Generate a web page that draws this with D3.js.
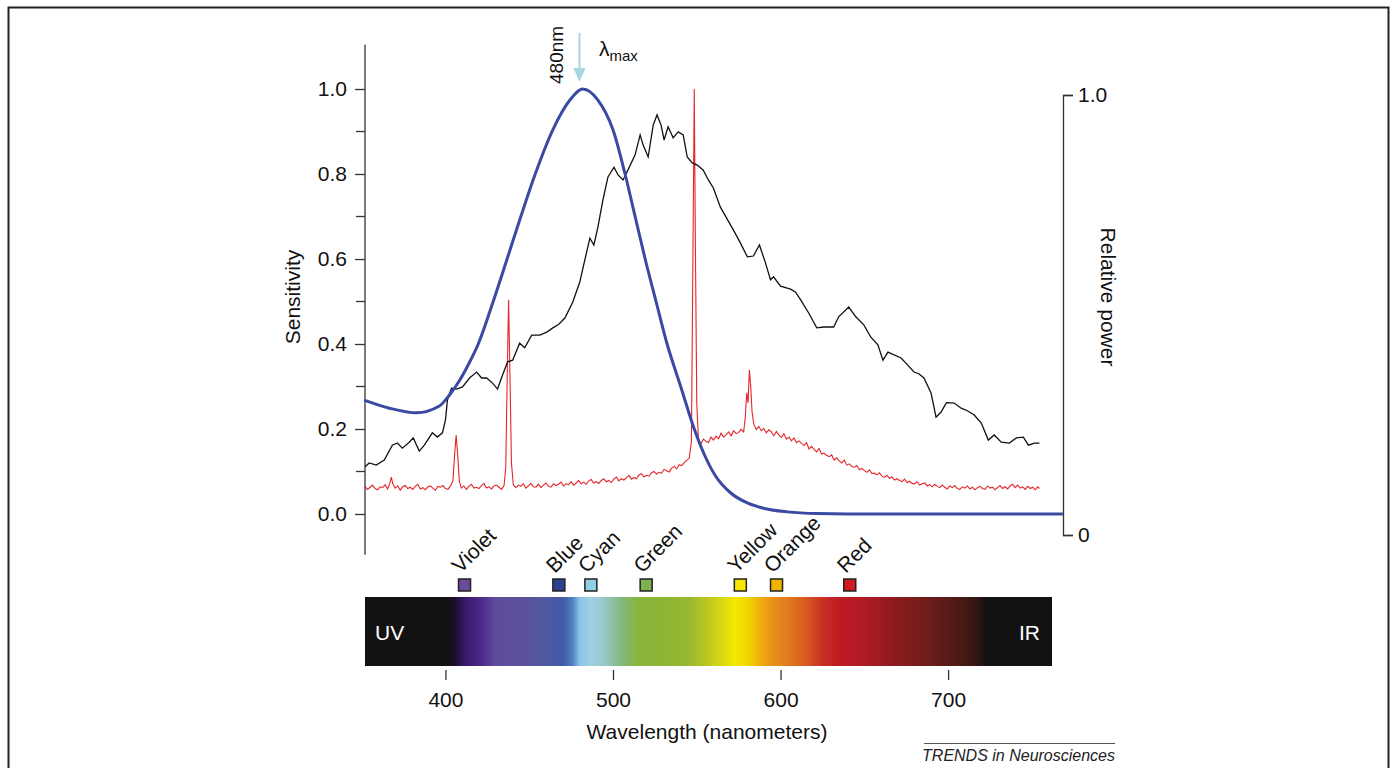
<!DOCTYPE html>
<html>
<head>
<meta charset="utf-8">
<script src="https://cdn.jsdelivr.net/npm/d3@7"></script>
<style>
  body { margin: 0; background: #fff; }
  svg { display: block; font-family: "Liberation Sans", Arial, sans-serif; }
</style>
</head>
<body>
<svg id="chart" width="1396" height="768"></svg>
<script>
// sensitivity nomogram, lambda max 480nm  [nm, sensitivity]
var sensitivity = [[351.5,.268],[366.5,.249],[382.6,.238],[396.4,.254],[402.4,.280],[408.4,.314],[414.4,.357],
  [419.6,.400],[428.5,.500],[436.8,.600],[445,.700],[453.6,.800],[464.1,.904],[474.3,.974],
  [482,1],[491,.974],[500,.904],[507.2,.800],[513.2,.700],[519.2,.600],[525.7,.500],[532.3,.400],[540.4,.300],
  [548.5,.200],[554.5,.140],[561.1,.090],[570.1,.050],[580.2,.026],[590.4,.013],[604.2,.005],[622,.001],[640,0],[768.5,0]];

// broadband source (black)
var broadSpectrum = [[352.1,.111],[354.5,.120],[358.7,.115],[363.5,.127],[368.3,.162],[371.3,.167],[374.3,.155],
  [378.4,.169],[380.8,.179],[384.4,.148],[387.4,.162],[392.2,.191],[395.2,.181],[398.2,.191],[400,.221],[401.2,.268],
  [403.6,.296],[406.6,.294],[410.2,.299],[414.4,.320],[418.6,.334],[421.6,.320],[424.6,.320],[428.1,.308],[431.1,.294],
  [434.1,.327],[437.1,.358],[440.1,.362],[444.3,.402],[447.3,.391],[451.5,.421],[456.3,.421],[460.5,.428],[464.1,.438],
  [467.5,.446],[471.3,.461],[476,.499],[480.2,.546],[483.2,.598],[486.2,.649],[488.6,.633],[491,.675],[494,.739],
  [497,.793],[500.6,.816],[503,.798],[506,.786],[508.4,.805],[513.2,.845],[516.2,.892],[518,.868],[521,.840],
  [524,.915],[526.3,.939],[528.7,.915],[530.5,.880],[532.9,.911],[535.9,.885],[538.9,.899],[541.9,.892],[544.3,.840],
  [547.3,.826],[550.3,.821],[553.9,.809],[556.9,.786],[559.9,.767],[564.1,.722],[567.4,.699],[571.9,.668],[576,.638],
  [580.2,.605],[583.8,.607],[587.4,.633],[591,.591],[594,.551],[595.8,.558],[600,.536],[606,.529],[609,.522],[612,.504],
  [616.8,.473],[621.6,.438],[625.7,.440],[631.7,.440],[634.7,.464],[640.7,.487],[644.9,.464],[649.7,.445],[653.9,.416],
  [658.1,.398],[661.1,.362],[664.1,.381],[671.9,.367],[675.5,.352],[679.6,.334],[682.5,.330],[685.6,.320],[689.8,.285],
  [692.8,.228],[695.8,.240],[699,.262],[703.6,.261],[707.8,.249],[711.5,.243],[715.6,.233],[719.8,.214],[724,.174],
  [727.5,.186],[731.7,.169],[736.5,.167],[740.7,.179],[744.9,.181],[747.9,.162],[751.5,.167],[754.5,.167]];

// lamp spectrum (red), with mercury lines
var lampSpectrum = [[352,.065],[353.5,.058],[355,.063],[356.5,.068],[358,.060],[359.5,.057],[361,.064],[362.5,.062],
  [364,.069],[365.5,.059],[366.8,.072],[367.7,.087],[368.6,.071],[370,.061],[371.5,.066],[373,.056],[374.5,.064],
  [376,.067],[377.5,.060],[379,.063],[380.5,.058],[382,.065],[383.5,.070],[385,.059],[386.5,.062],[388,.057],
  [389.5,.064],[391,.066],[392.5,.061],[394,.056],[395.5,.065],[397,.063],[398.5,.067],[400,.060],[401.5,.058],
  [403,.066],[404.5,.078],[405.5,.140],[406.4,.186],[407.3,.140],[408.3,.078],[409.5,.061],[411,.066],[412.5,.058],
  [414,.065],[415.5,.070],[417,.061],[418.5,.063],[420,.060],[421.5,.067],[423,.072],[424.5,.061],[426,.064],
  [427.5,.059],[429,.066],[430.5,.068],[432,.063],[433.5,.058],[435,.067],[436,.110],[436.9,.33],[437.7,.504],
  [438.5,.33],[439.4,.12],[440.5,.069],[442,.062],[443.5,.068],[445,.065],[446.5,.071],[448,.061],[449.5,.066],
  [451,.072],[452.5,.064],[454,.063],[455.5,.070],[457,.062],[458.5,.068],[460,.073],[461.5,.065],[463,.063],
  [464.5,.071],[466,.067],[467.5,.070],[469,.075],[470.5,.066],[472,.071],[473.5,.069],[475,.076],[476.5,.068],
  [478,.073],[479.5,.079],[481,.071],[482.5,.075],[484,.070],[485.5,.078],[487,.081],[488.5,.073],[490,.076],
  [491.5,.072],[493,.079],[494.5,.083],[496,.076],[497.5,.079],[499,.074],[500.5,.082],[502,.087],[503.5,.078],
  [505,.083],[506.5,.080],[508,.085],[509.5,.091],[511,.082],[512.5,.086],[514,.083],[515.5,.092],[517,.095],
  [518.5,.087],[520,.091],[521.5,.089],[523,.097],[524.5,.100],[526,.094],[527.5,.098],[529,.096],[530.5,.105],
  [532,.102],[533.5,.099],[535,.108],[536.5,.112],[538,.106],[539.5,.116],[541,.114],[542.5,.121],[544,.126],
  [545.5,.131],[546.8,.17],[547.7,.60],[548.5,1.0],[549.2,.62],[550,.26],[551,.175],[552.5,.166],[554,.176],
  [555.5,.171],[557,.168],[558.5,.181],[560,.174],[561.5,.183],[563,.177],[564.5,.190],[566,.181],[567.5,.186],
  [569,.193],[570.5,.184],[572,.196],[573.5,.189],[575,.192],[576.5,.199],[578,.193],[579,.23],[579.8,.285],
  [580.6,.262],[581.4,.339],[582.2,.300],[583,.240],[584,.212],[585.5,.199],[587,.206],[588.5,.196],[590,.201],
  [591.5,.191],[593,.198],[594.5,.193],[596,.184],[597.5,.194],[599,.186],[600.5,.180],[602,.189],[603.5,.176],
  [605,.181],[606.5,.172],[608,.179],[609.5,.168],[611,.172],[612.5,.166],[614,.161],[615.5,.168],[617,.153],
  [618.5,.159],[620,.152],[621.5,.146],[623,.154],[624.5,.141],[626,.143],[627.5,.138],[629,.135],[630.5,.139],
  [632,.127],[633.5,.132],[635,.125],[636.5,.120],[638,.127],[639.5,.115],[641,.118],[642.5,.112],[644,.110],
  [645.5,.114],[647,.104],[648.5,.107],[650,.102],[651.5,.098],[653,.104],[654.5,.095],[656,.096],[657.5,.092],
  [659,.097],[660.5,.089],[662,.086],[663.5,.091],[665,.084],[666.5,.087],[668,.080],[669.5,.083],[671,.079],
  [672.5,.076],[674,.082],[675.5,.074],[677,.077],[678.5,.072],[680,.071],[681.5,.076],[683,.068],[684.5,.071],
  [686,.073],[687.5,.066],[689,.069],[690.5,.064],[692,.070],[693.5,.065],[695,.062],[696.5,.068],[698,.063],
  [699.5,.059],[701,.066],[702.5,.062],[704,.067],[705.5,.060],[707,.058],[708.5,.064],[710,.061],[711.5,.066],
  [713,.059],[714.5,.063],[716,.057],[717.5,.062],[719,.065],[720.5,.060],[722,.058],[723.5,.066],[725,.061],
  [726.5,.063],[728,.057],[729.5,.062],[731,.067],[732.5,.060],[734,.064],[735.5,.059],[737,.066],[738.5,.070],
  [740,.062],[741.5,.068],[743,.061],[744.5,.064],[746,.058],[747.5,.065],[749,.060],[750.5,.063],[752,.057],
  [753.5,.064],[754.5,.060]];

var colorNames = ["Violet", "Blue", "Cyan", "Green", "Yellow", "Orange", "Red"];
var colorWl = [411.4, 467.7, 486.8, 519.8, 576, 597.6, 641.3];
var colorFill = ["#6b4c9c", "#2d4090", "#90cfe6", "#7cb14f", "#f6e600", "#f0b400", "#d01c1e"];

// spectrum bar gradient [nm, colour]
var spectrumStops = [[352,"#121212"],[402,"#121212"],[406,"#1c1030"],[412,"#3a1a6c"],[420,"#4a2686"],
  [430,"#5f4b9c"],[446,"#5d509a"],[460,"#5059a2"],[470,"#3e5ba6"],[476,"#4f82c2"],[480,"#88c4ea"],
  [487,"#a0d0e2"],[495,"#98c7c6"],[505,"#80b97c"],[515,"#89b53c"],[530,"#8db535"],[545,"#98b82f"],
  [555,"#b8c521"],[565,"#d8d812"],[573,"#f6e800"],[580,"#f2d700"],[587,"#efb20a"],[595,"#e8921a"],
  [605,"#e07820"],[615,"#d85a20"],[625,"#c83022"],[635,"#c01a24"],[650,"#b01a24"],[670,"#8a1b1d"],
  [690,"#6a1c19"],[708,"#4a1a15"],[718,"#2c1511"],[723,"#121212"],[762,"#121212"]];

var yTicks = [0, 0.2, 0.4, 0.6, 0.8, 1.0];
var yMinor = [0.1, 0.3, 0.5, 0.7, 0.9];
var xTicks = [400, 500, 600, 700];

var fs = 21;
var svg = d3.select("#chart");

// frame
svg.append("rect").attr("x", 8.5).attr("y", 7.5).attr("width", 1380).attr("height", 800)
  .attr("fill", "none").attr("stroke", "#222").attr("stroke-width", 2);

var x = d3.scaleLinear().domain([352, 762]).range([365, 1052]);
var yL = d3.scaleLinear().domain([0, 1]).range([514, 89]);
var yR = d3.scaleLinear().domain([0, 1]).range([535, 95]);

// left axis
var gl = svg.append("g").attr("transform", "translate(365,0)");
gl.call(d3.axisLeft(yL).tickValues(yTicks).tickFormat(d3.format(".1f")).tickSize(10).tickPadding(8));
gl.select(".domain").remove();
gl.selectAll(".tick line").attr("stroke", "#333").attr("stroke-width", 1.3);
gl.selectAll(".tick text").attr("font-size", fs).attr("fill", "#111");
gl.selectAll(".minor").data(yMinor).enter().append("line")
  .attr("x1", -9).attr("x2", 0).attr("y1", yL).attr("y2", yL)
  .attr("stroke", "#333").attr("stroke-width", 1.3);
gl.append("line").attr("x1", 0).attr("x2", 0).attr("y1", yL(1.104)).attr("y2", yL(-0.096))
  .attr("stroke", "#333").attr("stroke-width", 1.3);
svg.append("text").attr("transform", "translate(300,297) rotate(-90)")
  .attr("text-anchor", "middle").attr("font-size", fs).attr("fill", "#111").text("Sensitivity");

// right axis
var gr = svg.append("g").attr("transform", "translate(1063,0)");
gr.call(d3.axisRight(yR).tickValues([0, 1]).tickFormat(function(d){ return d === 0 ? "0" : "1.0"; })
  .tickSize(10).tickSizeOuter(10).tickPadding(5));
gr.selectAll("path, line").attr("stroke", "#333").attr("stroke-width", 1.3);
gr.selectAll(".tick text").attr("font-size", fs).attr("fill", "#111");
svg.append("text").attr("transform", "translate(1101,297) rotate(90)")
  .attr("text-anchor", "middle").attr("font-size", fs).attr("fill", "#111").text("Relative power");

// curves
var line = d3.line().x(function(d){ return x(d[0]); }).y(function(d){ return yL(d[1]); });

svg.append("path").datum(lampSpectrum).attr("d", line)
  .attr("fill", "none").attr("stroke", "#e3262b").attr("stroke-width", 1.1);
svg.append("path").datum(broadSpectrum).attr("d", line)
  .attr("fill", "none").attr("stroke", "#111").attr("stroke-width", 1.3);
svg.append("path").datum(sensitivity).attr("d", line.curve(d3.curveMonotoneX))
  .attr("fill", "none").attr("stroke", "#3a4aa3").attr("stroke-width", 3);

// lambda max marker
var defs = svg.append("defs");
svg.append("line").attr("x1", x(480)).attr("x2", x(480)).attr("y1", 33).attr("y2", 72)
  .attr("stroke", "#a6d7df").attr("stroke-width", 2);
svg.append("path")
  .attr("d", "M" + (x(480) - 6) + ",68L" + x(480) + ",82L" + (x(480) + 6) + ",68Z")
  .attr("fill", "#a6d7df");
svg.append("text").attr("transform", "translate(563,84) rotate(-90)")
  .attr("font-size", 19).attr("fill", "#111").text("480nm");
var lm = svg.append("text").attr("x", 599).attr("y", 56).attr("font-size", 21).attr("fill", "#111");
lm.append("tspan").text("λ");
lm.append("tspan").attr("font-size", 15).attr("dy", 5).text("max");

// spectrum bar
var grad = defs.append("linearGradient").attr("id", "spec")
  .attr("gradientUnits", "userSpaceOnUse").attr("x1", x(352)).attr("x2", x(762)).attr("y1", 0).attr("y2", 0);
grad.selectAll("stop").data(spectrumStops).enter().append("stop")
  .attr("offset", function(d){ return (d[0] - 352) / (762 - 352); })
  .attr("stop-color", function(d){ return d[1]; });
svg.append("rect").attr("x", x(352)).attr("y", 597).attr("width", x(762) - x(352)).attr("height", 69)
  .attr("fill", "url(#spec)");
svg.append("text").attr("x", 375).attr("y", 640).attr("font-size", fs).attr("fill", "#fff").text("UV");
svg.append("text").attr("x", 1019).attr("y", 640).attr("font-size", fs).attr("fill", "#fff").text("IR");

// colour markers
svg.selectAll(".sq").data(colorWl).enter().append("rect")
  .attr("x", function(d){ return x(d) - 6; }).attr("y", 579).attr("width", 12).attr("height", 12)
  .attr("fill", function(d, i){ return colorFill[i]; })
  .attr("stroke", "#222").attr("stroke-width", 1.5);
svg.selectAll(".clab").data(colorNames).enter().append("text")
  .attr("transform", function(d, i){ return "translate(" + (x(colorWl[i]) - 4) + ",574) rotate(-45)"; })
  .attr("font-size", fs).attr("fill", "#111").text(function(d){ return d; });

// x axis
var gx = svg.append("g").attr("transform", "translate(0,670)");
gx.call(d3.axisBottom(x).tickValues(xTicks).tickSize(10).tickPadding(12));
gx.select(".domain").remove();
gx.selectAll(".tick line").attr("stroke", "#333").attr("stroke-width", 1.3);
gx.selectAll(".tick text").attr("font-size", fs).attr("fill", "#111");
svg.append("text").attr("x", 707).attr("y", 739).attr("text-anchor", "middle")
  .attr("font-size", fs).attr("fill", "#111").text("Wavelength (nanometers)");

// source
svg.append("line").attr("x1", 924).attr("x2", 1115).attr("y1", 743.5).attr("y2", 743.5)
  .attr("stroke", "#555").attr("stroke-width", 1);
svg.append("text").attr("x", 1115).attr("y", 761).attr("text-anchor", "end")
  .attr("font-size", 16).attr("font-style", "italic").attr("fill", "#222").text("TRENDS in Neurosciences");
</script>
</body>
</html>
